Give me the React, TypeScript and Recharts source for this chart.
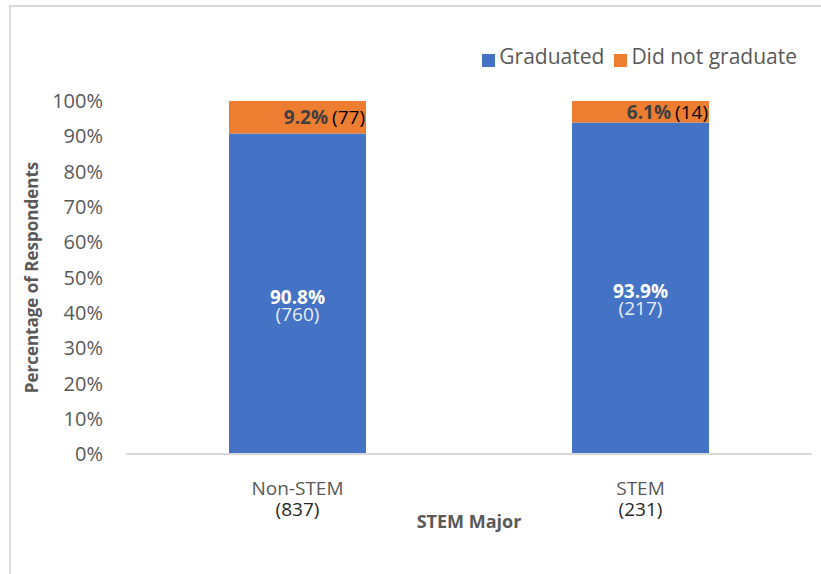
import { Bar, BarChart, LabelList, Legend, XAxis, YAxis, Label } from "recharts";

const categories = ["Non-STEM", "STEM"];
const categoryTotals = [837, 231];
const graduatedPct = [90.8, 93.9];
const graduatedCount = [760, 217];
const notGraduatedPct = [9.2, 6.1];
const notGraduatedCount = [77, 14];
const yTicks = [0, 10, 20, 30, 40, 50, 60, 70, 80, 90, 100];
const seriesOrder = ["Graduated", "Did not graduate"];

const data = categories.map((name, i) => ({
  name,
  total: categoryTotals[i],
  graduated: graduatedPct[i],
  graduatedN: graduatedCount[i],
  notGraduated: notGraduatedPct[i],
  notGraduatedN: notGraduatedCount[i],
}));

const FONT = "'Open Sans', sans-serif";
const GRAY = "#595959";

function XTick(props: any) {
  const { x, y, payload } = props;
  const row = data.find((d) => d.name === payload.value);
  return (
    <g>
      <text x={x} y={y} dy={33} textAnchor="middle" fill={GRAY} fontSize={19} fontFamily={FONT}>
        {payload.value}
      </text>
      <text x={x} y={y} dy={54} textAnchor="middle" fill="#262626" fontSize={19} fontFamily={FONT}>
        ({row?.total})
      </text>
    </g>
  );
}

function InnerLabel(props: any) {
  const { x, y, width, height, index } = props;
  const cx = x + width / 2;
  const cy = y + height / 2;
  return (
    <g fontFamily={FONT} textAnchor="middle">
      <text x={cx} y={cy + 10} fill="#ffffff" fontSize={19} fontWeight={700}>
        {graduatedPct[index].toFixed(1)}%
      </text>
      <text x={cx} y={cy + 27} fill="#e8eef8" fontSize={19}>
        ({graduatedCount[index]})
      </text>
    </g>
  );
}

function TopLabel(props: any) {
  const { x, y, width, height, index } = props;
  return (
    <text x={x + width - 1} y={y + height / 2 + 7} textAnchor="end" fontFamily={FONT} fontSize={19}>
      <tspan fill="#404040" fontWeight={700}>{notGraduatedPct[index].toFixed(1)}%</tspan>
      <tspan fill="#000000" dx={4}>({notGraduatedCount[index]})</tspan>
    </text>
  );
}

function legendText(value: string) {
  return <span style={{ color: GRAY, fontSize: 21, fontFamily: FONT }}>{value}</span>;
}

export default function App() {
  return (
    <div
      style={{
        position: "absolute",
        left: 0,
        top: 0,
        width: 821,
        height: 574,
        background: "#ffffff",
        overflow: "hidden",
      }}
    >
      <div
        style={{
          position: "absolute",
          left: 9,
          top: 5,
          width: 830,
          height: 600,
          border: "2px solid #d9d9d9",
          boxSizing: "border-box",
        }}
      />
      <div style={{ position: "absolute", left: 0, top: 0 }}>
        <BarChart
          width={821}
          height={574}
          data={data}
          margin={{ top: 101, right: 9, bottom: 0, left: 26 }}
          barSize={137}
        >
          <XAxis
            dataKey="name"
            tick={<XTick />}
            tickLine={false}
            axisLine={{ stroke: "#d9d9d9", strokeWidth: 2 }}
            height={120}
            interval={0}
          >
            <Label
              content={(p: any) => {
                const vb = p.viewBox;
                return (
                  <text
                    x={469}
                    y={vb.y + 74}
                    textAnchor="middle"
                    fill={GRAY}
                    fontSize={18}
                    fontWeight={700}
                    fontFamily={FONT}
                  >
                    STEM Major
                  </text>
                );
              }}
            />
          </XAxis>
          <YAxis
            domain={[0, 100]}
            ticks={yTicks}
            interval={0}
            tickFormatter={(v: number) => `${v}%`}
            tick={{ fill: GRAY, fontSize: 20, fontFamily: FONT }}
            tickLine={false}
            axisLine={false}
            tickSize={0}
            tickMargin={23}
            width={100}
          >
            <Label
              content={(p: any) => {
                const vb = p.viewBox;
                const cx = 31;
                const cy = vb.y + vb.height / 2;
                return (
                  <text
                    x={cx}
                    y={cy}
                    transform={`rotate(-90 ${cx} ${cy})`}
                    textAnchor="middle"
                    dominantBaseline="central"
                    fill={GRAY}
                    fontSize={17}
                    fontWeight={700}
                    fontFamily={FONT}
                  >
                    Percentage of Respondents
                  </text>
                );
              }}
            />
          </YAxis>
          <Legend
            verticalAlign="top"
            align="right"
            iconType="square"
            iconSize={13}
            formatter={legendText}
            itemSorter={(item: any) => seriesOrder.indexOf(item.value)}
            wrapperStyle={{ top: 42, right: 14, left: "auto", width: "auto", height: 0 }}
          />
          <Bar dataKey="graduated" name="Graduated" stackId="a" fill="#4472c4" isAnimationActive={false}>
            <LabelList dataKey="graduated" content={<InnerLabel />} />
          </Bar>
          <Bar dataKey="notGraduated" name="Did not graduate" stackId="a" fill="#ed7d31" isAnimationActive={false}>
            <LabelList dataKey="notGraduated" content={<TopLabel />} />
          </Bar>
        </BarChart>
      </div>
    </div>
  );
}
